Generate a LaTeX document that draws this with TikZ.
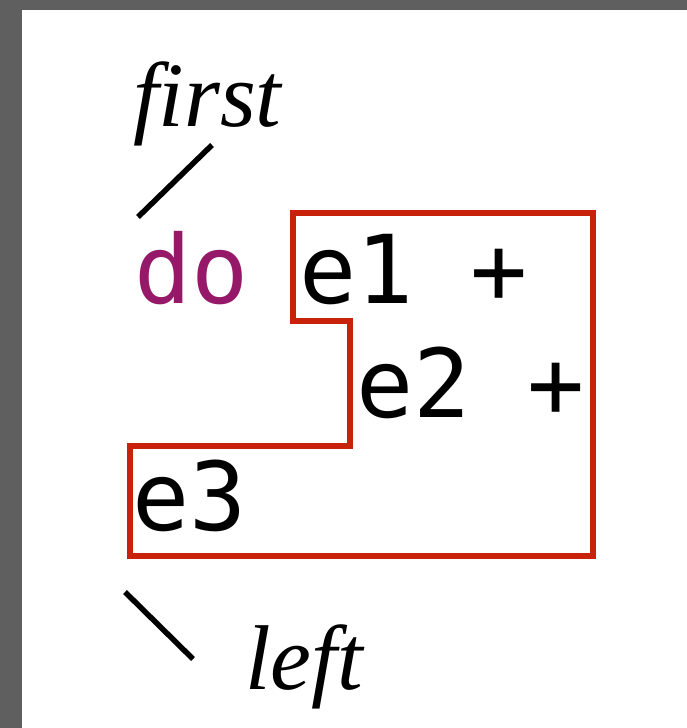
\documentclass[tikz,border=0pt]{standalone}
\usepackage{fontspec}
\setmainfont{Liberation Serif}
\setmonofont{DejaVu Sans Mono}
\definecolor{frame}{RGB}{95,95,95}
\definecolor{boxred}{RGB}{200,35,10}
\definecolor{kw}{RGB}{150,25,105}
\tikzset{
  code/.style={anchor=base west,inner sep=0pt,font=\fontsize{95}{95}\selectfont\ttfamily},
  lbl/.style={anchor=base west,inner sep=0pt,font=\fontsize{92}{92}\selectfont\itshape\addfontfeature{Ligatures=NoCommon}},
  tick/.style={line width=5.5pt},
  region/.style={draw=boxred,line width=5.5pt,line join=miter}
}
\begin{document}
\begin{tikzpicture}[x=1pt,y=-1pt]
\useasboundingbox (0,0) rectangle (687,728);
\fill[frame] (0,0) rectangle (687,10);
\fill[frame] (0,0) rectangle (22,728);
% code
\node[code,text=kw] (do) at (134,303) {do};
\node[code] (l1) at (299,303) {e1 +};
\node[code] (l2) at (356,417) {e2 +};
\node[code] (l3) at (132,530) {e3};
% region
\draw[region] (293,213) -- (593,213) -- (593,556) -- (130,556) -- (130,446)
  -- (350,446) -- (350,321) -- (293,321) -- cycle;
% labels
\node[lbl] (first) at (133,126) {f\kern0pt irst};
\node[lbl] (left) at (245,689) {left};
\coordinate (f1) at (138,217);
\coordinate (f2) at (212,145);
\coordinate (g1) at (125,592);
\coordinate (g2) at (193,659);
\draw[tick] (f1) -- (f2);
\draw[tick] (g1) -- (g2);
\end{tikzpicture}
\end{document}
